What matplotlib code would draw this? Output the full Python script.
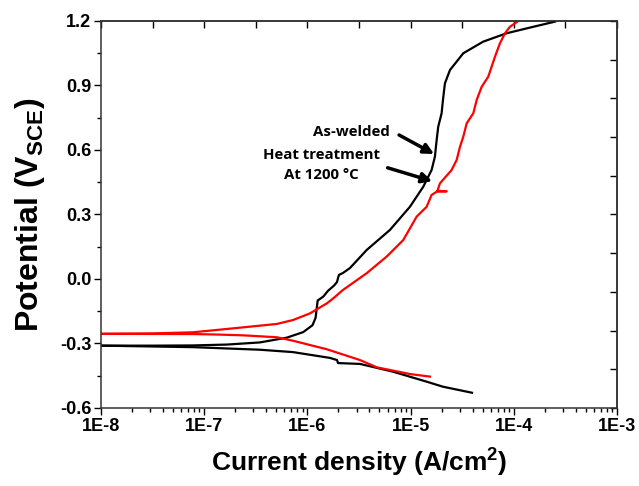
import numpy as np
import matplotlib
matplotlib.use('Agg')
import matplotlib.pyplot as plt
from matplotlib.ticker import FixedLocator, NullLocator, MultipleLocator, FuncFormatter

plt.rcParams['font.family'] = ['Liberation Sans', 'DejaVu Sans']
plt.rcParams['font.weight'] = 'bold'
plt.rcParams['axes.labelweight'] = 'bold'
plt.rcParams['mathtext.fontset'] = 'custom'
plt.rcParams['mathtext.bf'] = 'Liberation Sans:bold'
plt.rcParams['mathtext.rm'] = 'Liberation Sans:bold'
plt.rcParams['mathtext.default'] = 'bf'

# log10 of current density (A/cm2) and potential (V_SCE)
# as-welded, anodic branch
aw_an_logi = [-8.0, -7.5, -7.11, -6.78, -6.46, -6.20, -6.04, -5.95, -5.92, -5.91, -5.90,
              -5.846, -5.80, -5.74, -5.713, -5.694, -5.655, -5.587, -5.425, -5.20, -5.006,
              -4.877, -4.796, -4.764, -4.747, -4.732, -4.699, -4.686, -4.667, -4.618,
              -4.489, -4.296, -4.069, -3.811, -3.601]
aw_an_E = [-0.310, -0.310, -0.309, -0.305, -0.295, -0.273, -0.247, -0.215, -0.18, -0.14, -0.10,
           -0.082, -0.055, -0.03, -0.014, 0.019, 0.028, 0.051, 0.135, 0.228, 0.336,
           0.429, 0.507, 0.569, 0.647, 0.708, 0.771, 0.833, 0.910, 0.972,
           1.050, 1.104, 1.143, 1.173, 1.197]
# as-welded, cathodic branch
aw_ca_logi = [-8.0, -7.11, -6.46, -6.14, -5.781, -5.713, -5.703, -5.49, -5.171, -4.841, -4.686, -4.405]
aw_ca_E = [-0.310, -0.317, -0.329, -0.340, -0.367, -0.377, -0.391, -0.395, -0.431, -0.478, -0.501, -0.529]

# heat treated 1200 C, anodic branch
ht_an_logi = [-8.0, -7.5, -7.11, -6.624, -6.295, -6.14, -5.975, -5.81, -5.749, -5.655, -5.425,
              -5.232, -5.071, -4.941, -4.844, -4.796, -4.747, -4.65, -4.74, -4.715, -4.602,
              -4.553, -4.521, -4.489, -4.456, -4.392, -4.359, -4.311, -4.247, -4.182,
              -4.134, -4.085, -4.037, -3.956]
ht_an_E = [-0.255, -0.253, -0.248, -0.225, -0.209, -0.191, -0.160, -0.113, -0.090, -0.051, 0.027,
           0.104, 0.181, 0.290, 0.336, 0.391, 0.406, 0.408, 0.41, 0.445, 0.507,
           0.554, 0.615, 0.662, 0.724, 0.771, 0.833, 0.894, 0.941, 1.034,
           1.096, 1.143, 1.173, 1.2]
# heat treated, cathodic branch
ht_ca_logi = [-8.0, -7.11, -6.9, -6.624, -6.295, -6.14, -5.81, -5.49, -5.326, -5.171, -5.006, -4.812]
ht_ca_E = [-0.255, -0.256, -0.258, -0.262, -0.271, -0.287, -0.327, -0.377, -0.411, -0.426, -0.442, -0.454]

xticks = [1e-8, 1e-7, 1e-6, 1e-5, 1e-4, 1e-3]
xlabels = ['1E-8', '1E-7', '1E-6', '1E-5', '1E-4', '1E-3']

fig = plt.figure(figsize=(6.39, 4.86), dpi=100)
ax = fig.add_axes([0.158, 0.1605, 0.8075, 0.7963])

ax.plot(10 ** np.array(aw_an_logi), aw_an_E, color='black', lw=1.6)
ax.plot(10 ** np.array(aw_ca_logi), aw_ca_E, color='black', lw=1.6)
ax.plot(10 ** np.array(ht_an_logi), ht_an_E, color='red', lw=1.6)
ax.plot(10 ** np.array(ht_ca_logi), ht_ca_E, color='red', lw=1.6)

ax.set_xscale('log')
ax.set_xlim(1e-8, 1e-3)
ax.set_ylim(-0.6, 1.2)
ax.set_xticks(xticks)
ax.set_xticklabels(xlabels)
ax.yaxis.set_major_locator(MultipleLocator(0.3))
ax.yaxis.set_minor_locator(MultipleLocator(0.15))
ax.yaxis.set_major_formatter(FuncFormatter(lambda v, p: '%.1f' % v))
ax.tick_params(which='major', direction='out', length=5, width=1, labelsize=13,
               top=False, right=False, pad=2)
ax.tick_params(which='minor', direction='out', length=3, width=1, top=False, right=False)

# opposite axes with their own ticks
top = ax.secondary_xaxis('top')
top.xaxis.set_major_locator(FixedLocator(10 ** np.arange(-8, -2.9, 0.5)))
top.xaxis.set_minor_locator(NullLocator())
top.tick_params(direction='in', length=5, width=1, labeltop=False)
right = ax.secondary_yaxis('right')
right.yaxis.set_major_locator(FixedLocator(np.linspace(-0.6, 1.2, 11)))
right.yaxis.set_minor_locator(NullLocator())
right.tick_params(direction='in', length=5, width=1, labelright=False)

for a in [ax, top, right]:
    for s in a.spines.values():
        s.set_linewidth(1.1)
        s.set_color('#333333')

ax.set_xlabel(r'Current density (A/cm$^{\mathbf{2}}$)', fontsize=19, fontweight='bold', labelpad=9)
ax.set_ylabel(r'Potential (V$_{\mathbf{SCE}}$)', fontsize=23, fontweight='bold', labelpad=9)

ann = dict(family='Open Sans', weight='bold', fontsize=10.8)
ax.text(10 ** -5.20, 0.682, 'As-welded', ha='right', va='center', **ann)
ax.text(10 ** -5.86, 0.575, 'Heat treatment', ha='center', va='center', **ann)
ax.text(10 ** -5.86, 0.482, 'At 1200 \u00b0C', ha='center', va='center', **ann)
arrow = dict(arrowstyle='-|>,head_length=0.6,head_width=0.3', color='black', lw=2.5)
ax.annotate('', xy=(10 ** -4.748, 0.575), xytext=(10 ** -5.135, 0.676), arrowprops=arrow)
ax.annotate('', xy=(10 ** -4.764, 0.451), xytext=(10 ** -5.248, 0.521), arrowprops=arrow)

fig.savefig('out.png', dpi=100)
